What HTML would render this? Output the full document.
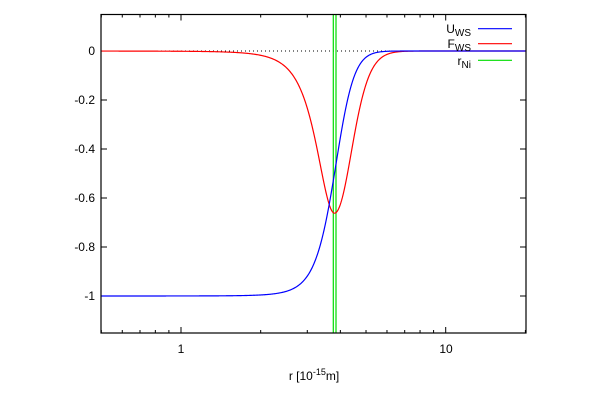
<!DOCTYPE html>
<html><head><meta charset="utf-8"><style>
body{margin:0;background:#fff}
svg{display:block;font-family:"Liberation Sans",sans-serif;font-size:12px}
</style></head><body>
<svg id="s" width="603" height="400" viewBox="0 0 603 400">
<rect width="603" height="400" fill="#fff"/>
<line x1="101" y1="51" x2="526" y2="51" stroke="#000" stroke-width="1" stroke-dasharray="1,3"/>
<g id="ticks" stroke="#000" stroke-width="1"></g>
<g id="lbl" fill="#000"></g>
<line x1="333.3" y1="14.5" x2="333.3" y2="333" stroke="#00dd00" stroke-width="1.2"/>
<line x1="336" y1="14.5" x2="336" y2="333" stroke="#00dd00" stroke-width="1.2"/>
<path id="red" fill="none" stroke="#ff0000" stroke-width="1.2"/>
<path id="blue" fill="none" stroke="#0000ff" stroke-width="1.2"/>
<rect x="101" y="14.5" width="425" height="318.5" fill="none" stroke="#000" stroke-width="1.2"/>
<text x="471" y="33" text-anchor="end">U<tspan font-size="10" dy="3">WS</tspan></text>
<line x1="478" y1="28.7" x2="512" y2="28.7" stroke="#0000ff" stroke-width="1.2"/>
<text x="471" y="48" text-anchor="end">F<tspan font-size="10" dy="3">WS</tspan></text>
<line x1="478" y1="43.7" x2="512" y2="43.7" stroke="#ff0000" stroke-width="1.2"/>
<text x="471" y="65" text-anchor="end">r<tspan font-size="10" dy="3">Ni</tspan></text>
<line x1="478" y1="60.3" x2="512" y2="60.3" stroke="#00dd00" stroke-width="1.2"/>
<text x="314" y="380" text-anchor="middle">r [10<tspan font-size="9" dy="-5">-15</tspan><tspan dy="5">m]</tspan></text>
</svg>
<script>
var X=function(r){return 181+264.7*Math.log10(r)};
var Y=function(v){return 51-245*v};
var t='',l='';
[0,-0.2,-0.4,-0.6,-0.8,-1].forEach(function(v){var y=Y(v);
t+='<line x1="101" y1="'+y+'" x2="107" y2="'+y+'"/><line x1="526" y1="'+y+'" x2="520" y2="'+y+'"/>';
l+='<text x="95" y="'+(y+4)+'" text-anchor="end">'+(v==0?'0':v)+'</text>';});
[0.5,0.6,0.7,0.8,0.9,1,2,3,4,5,6,7,8,9,10,20].forEach(function(r){var x=X(r);var L=(r==1||r==10)?6:3;
t+='<line x1="'+x+'" y1="333" x2="'+x+'" y2="'+(333-L)+'"/><line x1="'+x+'" y1="14.5" x2="'+x+'" y2="'+(14.5+L)+'"/>';});
l+='<text x="181" y="353" text-anchor="middle">1</text><text x="446" y="353" text-anchor="middle">10</text>';
document.getElementById('ticks').innerHTML=t;document.getElementById('lbl').innerHTML=l;
var pb='',pr='';
for(var i=0;i<=600;i++){var lr=Math.log10(0.5)+i/600*(Math.log10(20)-Math.log10(0.5));var r=Math.pow(10,lr);
var U=-1/(1+Math.exp((r-3.8)/0.33));
var a=r<3.8?0.36:0.42;var e=Math.exp((r-3.8)/a);var F=-0.662*4*e/((1+e)*(1+e));
pb+=(i?'L':'M')+X(r).toFixed(2)+' '+Y(U).toFixed(2);
pr+=(i?'L':'M')+X(r).toFixed(2)+' '+Y(F).toFixed(2);}
document.getElementById('blue').setAttribute('d',pb);
document.getElementById('red').setAttribute('d',pr);
</script>
</body></html>
